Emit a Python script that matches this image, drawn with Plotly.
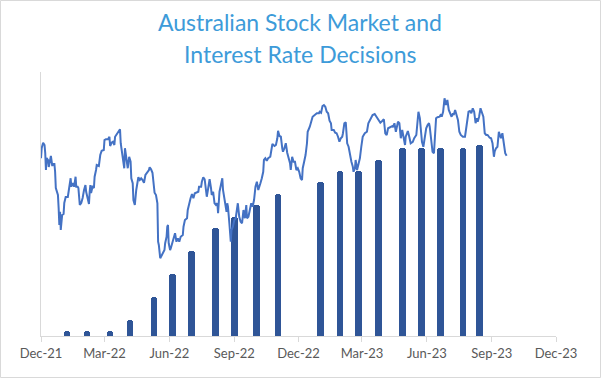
import plotly.graph_objects as go

# ---- Data -------------------------------------------------------------
# Interest rate decisions (cash rate, %)
rate_dates = ["2022-01-07", "2022-02-04", "2022-03-09", "2022-04-06", "2022-05-10",
              "2022-06-05", "2022-07-02", "2022-08-05", "2022-09-01", "2022-10-02",
              "2022-11-02", "2023-01-01", "2023-01-29", "2023-02-24", "2023-03-24",
              "2023-04-27", "2023-05-24", "2023-06-20", "2023-07-22", "2023-08-15"]
rate_values = [0.10, 0.10, 0.10, 0.35, 0.85, 1.35, 1.85, 2.35, 2.60, 2.85,
               3.10, 3.35, 3.60, 3.60, 3.85, 4.10, 4.10, 4.10, 4.10, 4.17]

# Stock market index (points)
stock_dates = [
    "2021-12-01", "2021-12-02", "2021-12-04", "2021-12-06", "2021-12-07", "2021-12-08", "2021-12-09",
    "2021-12-11", "2021-12-12", "2021-12-14", "2021-12-15", "2021-12-17", "2021-12-18", "2021-12-20",
    "2021-12-21", "2021-12-22", "2021-12-25", "2021-12-26", "2021-12-27", "2021-12-28", "2021-12-29",
    "2021-12-31", "2022-01-02", "2022-01-03", "2022-01-05", "2022-01-08", "2022-01-10", "2022-01-12",
    "2022-01-13", "2022-01-15", "2022-01-17", "2022-01-19", "2022-01-20", "2022-01-22", "2022-01-23",
    "2022-01-25", "2022-01-27", "2022-01-29", "2022-01-31", "2022-02-02", "2022-02-03", "2022-02-05",
    "2022-02-07", "2022-02-08", "2022-02-09", "2022-02-10", "2022-02-12", "2022-02-14", "2022-02-15",
    "2022-02-17", "2022-02-18", "2022-02-21", "2022-02-23", "2022-02-25", "2022-02-28", "2022-03-01",
    "2022-03-03", "2022-03-06", "2022-03-08", "2022-03-09", "2022-03-11", "2022-03-13", "2022-03-15",
    "2022-03-16", "2022-03-19", "2022-03-21", "2022-03-23", "2022-03-24", "2022-03-26", "2022-03-28",
    "2022-03-29", "2022-03-30", "2022-04-01", "2022-04-03", "2022-04-05", "2022-04-07", "2022-04-08",
    "2022-04-10", "2022-04-11", "2022-04-13", "2022-04-15", "2022-04-16", "2022-04-18", "2022-04-20",
    "2022-04-22", "2022-04-24", "2022-04-26", "2022-04-28", "2022-04-30", "2022-05-03", "2022-05-04",
    "2022-05-06", "2022-05-08", "2022-05-10", "2022-05-11", "2022-05-13", "2022-05-14", "2022-05-15",
    "2022-05-16", "2022-05-17", "2022-05-19", "2022-05-21", "2022-05-22", "2022-05-25", "2022-05-26",
    "2022-05-28", "2022-05-29", "2022-05-30", "2022-05-31", "2022-06-02", "2022-06-03", "2022-06-06",
    "2022-06-08", "2022-06-09", "2022-06-11", "2022-06-13", "2022-06-15", "2022-06-17", "2022-06-20",
    "2022-06-21", "2022-06-23", "2022-06-26", "2022-06-27", "2022-06-29", "2022-07-01", "2022-07-03",
    "2022-07-05", "2022-07-07", "2022-07-10", "2022-07-12", "2022-07-13", "2022-07-16", "2022-07-17",
    "2022-07-19", "2022-07-21", "2022-07-23", "2022-07-24", "2022-07-26", "2022-07-28", "2022-07-30",
    "2022-07-31", "2022-08-02", "2022-08-04", "2022-08-06", "2022-08-08", "2022-08-09", "2022-08-11",
    "2022-08-13", "2022-08-15", "2022-08-16", "2022-08-18", "2022-08-19", "2022-08-21", "2022-08-22",
    "2022-08-23", "2022-08-25", "2022-08-26", "2022-08-27", "2022-08-28", "2022-08-30", "2022-09-01",
    "2022-09-03", "2022-09-05", "2022-09-06", "2022-09-08", "2022-09-10", "2022-09-12", "2022-09-14",
    "2022-09-16", "2022-09-18", "2022-09-19", "2022-09-21", "2022-09-23", "2022-09-25", "2022-09-27",
    "2022-09-29", "2022-10-01", "2022-10-03", "2022-10-05", "2022-10-06", "2022-10-08", "2022-10-10",
    "2022-10-12", "2022-10-13", "2022-10-15", "2022-10-17", "2022-10-19", "2022-10-22", "2022-10-23",
    "2022-10-25", "2022-10-28", "2022-10-30", "2022-11-01", "2022-11-02", "2022-11-04", "2022-11-06",
    "2022-11-08", "2022-11-09", "2022-11-11", "2022-11-13", "2022-11-15", "2022-11-17", "2022-11-19",
    "2022-11-20", "2022-11-22", "2022-11-24", "2022-11-26", "2022-11-28", "2022-11-30", "2022-12-02",
    "2022-12-04", "2022-12-06", "2022-12-07", "2022-12-09", "2022-12-11", "2022-12-13", "2022-12-14",
    "2022-12-17", "2022-12-19", "2022-12-21", "2022-12-24", "2022-12-27", "2022-12-30", "2022-12-31",
    "2023-01-02", "2023-01-04", "2023-01-06", "2023-01-08", "2023-01-10", "2023-01-12", "2023-01-14",
    "2023-01-16", "2023-01-17", "2023-01-20", "2023-01-22", "2023-01-24", "2023-01-26", "2023-01-28",
    "2023-01-30", "2023-02-01", "2023-02-02", "2023-02-04", "2023-02-06", "2023-02-08", "2023-02-10",
    "2023-02-11", "2023-02-13", "2023-02-14", "2023-02-16", "2023-02-17", "2023-02-19", "2023-02-20",
    "2023-02-22", "2023-02-24", "2023-02-26", "2023-02-28", "2023-03-02", "2023-03-05", "2023-03-08",
    "2023-03-10", "2023-03-13", "2023-03-16", "2023-03-19", "2023-03-22", "2023-03-25", "2023-03-27",
    "2023-03-30", "2023-04-01", "2023-04-03", "2023-04-05", "2023-04-07", "2023-04-10", "2023-04-13",
    "2023-04-14", "2023-04-16", "2023-04-18", "2023-04-21", "2023-04-23", "2023-04-25", "2023-04-27",
    "2023-04-29", "2023-05-01", "2023-05-02", "2023-05-05", "2023-05-07", "2023-05-09", "2023-05-12",
    "2023-05-14", "2023-05-17", "2023-05-18", "2023-05-20", "2023-05-22", "2023-05-24", "2023-05-25",
    "2023-05-27", "2023-05-29", "2023-05-31", "2023-06-02", "2023-06-04", "2023-06-05", "2023-06-07",
    "2023-06-09", "2023-06-11", "2023-06-12", "2023-06-14", "2023-06-16", "2023-06-19", "2023-06-21",
    "2023-06-22", "2023-06-24", "2023-06-26", "2023-06-28", "2023-06-30", "2023-07-02", "2023-07-04",
    "2023-07-06", "2023-07-08", "2023-07-09", "2023-07-11", "2023-07-13", "2023-07-15", "2023-07-17",
    "2023-07-19", "2023-07-22", "2023-07-25", "2023-07-26", "2023-07-28", "2023-07-30", "2023-08-01",
    "2023-08-03", "2023-08-05", "2023-08-07", "2023-08-09", "2023-08-11", "2023-08-12", "2023-08-14",
    "2023-08-16", "2023-08-18", "2023-08-20", "2023-08-22", "2023-08-24", "2023-08-26", "2023-08-28",
    "2023-08-29", "2023-08-31", "2023-09-02", "2023-09-04", "2023-09-05", "2023-09-07", "2023-09-09",
    "2023-09-11", "2023-09-13", "2023-09-14", "2023-09-16", "2023-09-18", "2023-09-20", "2023-09-22",
]
stock_values = [
    7222, 7304, 7346, 7328, 7264, 7128, 7224,
    7208, 7152, 7208, 7240, 7160, 7176, 7176,
    7114, 6984, 6928, 6824, 6688, 6794, 6648,
    6768, 6776, 6864, 6912, 6912, 6994, 7062,
    6994, 7024, 6994, 7074, 6994, 6994, 6984,
    6848, 6864, 6904, 6968, 7008, 6954, 6914,
    6856, 6954, 7008, 6944, 6994, 6984, 7074,
    7128, 7168, 7160, 7248, 7282, 7288, 7368,
    7374, 7374, 7394, 7320, 7346, 7354, 7328,
    7394, 7422, 7442, 7454, 7342, 7274, 7202,
    7142, 7302, 7194, 7142, 7234, 7194, 7062,
    7022, 6888, 6848, 6968, 6994, 7070, 7048,
    7062, 7048, 7026, 7088, 7106, 7128, 7150,
    7134, 7106, 6994, 6946, 6928, 6888, 6862,
    6554, 6528, 6422, 6448, 6462, 6488, 6542,
    6594, 6674, 6688, 6542, 6488, 6502, 6554,
    6594, 6622, 6554, 6582, 6554, 6594, 6608,
    6674, 6728, 6742, 6808, 6862, 6902, 6936,
    6902, 6942, 6946, 6954, 6994, 6994, 7034,
    7070, 7054, 6968, 6914, 6982, 7054, 6982,
    6928, 6954, 6862, 6848, 6862, 6782, 6954,
    7008, 7062, 6968, 6888, 6848, 6794, 6862,
    6834, 6702, 6622, 6554, 6648, 6674, 6728,
    6742, 6822, 6862, 6754, 6714, 6702, 6808,
    6742, 6848, 6742, 6754, 6808, 6862, 6834,
    6888, 6994, 7034, 6968, 6982, 7022, 7062,
    7114, 7208, 7222, 7202, 7222, 7234, 7274,
    7336, 7320, 7328, 7382, 7442, 7400, 7394,
    7302, 7274, 7302, 7342, 7266, 7222, 7182,
    7128, 7234, 7194, 7194, 7128, 7142, 7114,
    7062, 7048, 7142, 7194, 7248, 7342, 7434,
    7474, 7514, 7554, 7568, 7582, 7582, 7594,
    7586, 7640, 7648, 7634, 7594, 7582, 7522,
    7502, 7448, 7448, 7426, 7422, 7394, 7354,
    7382, 7394, 7422, 7502, 7510, 7342, 7314,
    7274, 7208, 7194, 7154, 7114, 7142, 7208,
    7128, 7168, 7222, 7314, 7394, 7422, 7434,
    7502, 7542, 7568, 7576, 7550, 7522, 7506,
    7522, 7534, 7422, 7408, 7462, 7470, 7480,
    7470, 7502, 7434, 7514, 7502, 7382, 7448,
    7368, 7328, 7394, 7440, 7394, 7342, 7354,
    7382, 7408, 7488, 7594, 7542, 7434, 7354,
    7314, 7408, 7462, 7488, 7502, 7474, 7342,
    7274, 7262, 7382, 7542, 7550, 7554, 7574,
    7554, 7594, 7702, 7648, 7688, 7608, 7574,
    7554, 7582, 7568, 7608, 7554, 7528, 7434,
    7408, 7394, 7394, 7434, 7514, 7594, 7600,
    7582, 7622, 7594, 7502, 7542, 7514, 7554,
    7622, 7594, 7554, 7422, 7408, 7408, 7394,
    7386, 7382, 7342, 7234, 7274, 7302, 7314,
    7434, 7394, 7382, 7422, 7342, 7262, 7242,
]

tick_dates = ["2021-12-01", "2022-03-01", "2022-06-01", "2022-09-01", "2022-12-01",
              "2023-03-01", "2023-06-01", "2023-09-01", "2023-12-01"]
tick_labels = ["Dec-21", "Mar-22", "Jun-22", "Sep-22", "Dec-22",
               "Mar-23", "Jun-23", "Sep-23", "Dec-23"]

title_lines = ["Australian Stock Market and", "Interest Rate Decisions"]

# ---- Figure -----------------------------------------------------------
BAR_WIDTH_MS = 9.5 * 24 * 3600 * 1000
PLOT_H = 264.0  # plot-area height in px (378 - 72 - 42)

fig = go.Figure()
fig.add_trace(go.Bar(
    x=rate_dates, y=rate_values, name="Cash rate",
    width=BAR_WIDTH_MS,
    marker=dict(color="#2F5597", line=dict(width=0), cornerradius="50%"),
))
fig.add_trace(go.Scatter(
    x=stock_dates, y=stock_values, name="Stock market", yaxis="y2",
    mode="lines", line=dict(color="#4472C4", width=2),
))

fig.update_layout(
    width=601, height=378,
    margin=dict(l=41, r=45, t=72, b=42),
    paper_bgcolor="white", plot_bgcolor="white",
    showlegend=False,
    font=dict(family="Lato, Open Sans, sans-serif", color="#595959"),
    xaxis=dict(
        type="date", range=["2021-12-01", "2023-12-01"],
        tickmode="array", tickvals=tick_dates, ticktext=tick_labels,
        showline=True, linecolor="#D9D9D9", linewidth=1,
        ticks="outside", ticklen=5, tickcolor="#D9D9D9",
        showgrid=False, zeroline=False,
        tickfont=dict(size=13, color="#595959"),
    ),
    yaxis=dict(
        range=[0, 5.76], showline=True, linecolor="#D9D9D9", linewidth=1,
        showticklabels=False, showgrid=False, zeroline=False, ticks="",
    ),
    yaxis2=dict(
        range=[5800, 7912], overlaying="y", side="right",
        showline=False, showticklabels=False, showgrid=False, zeroline=False,
    ),
    bargap=0,
)

# Two-line chart title
for line_text, y_px in zip(title_lines, [22, 54]):
    fig.add_annotation(
        text=line_text, xref="paper", yref="paper",
        x=(300 - 41) / 515, y=(336 - y_px) / PLOT_H,
        xanchor="center", yanchor="middle", showarrow=False,
        font=dict(family="Lato, Open Sans, sans-serif", size=23, color="#3D9BD9"),
    )

# Chart-area border
fig.add_shape(type="rect", xref="paper", yref="paper",
              x0=-40.5 / 515, x1=559.5 / 515, y0=-41.5 / PLOT_H, y1=335.5 / PLOT_H,
              line=dict(color="#D9D9D9", width=1), fillcolor="rgba(0,0,0,0)", layer="below")

fig.write_html("out.html", config={"displayModeBar": False},
               post_script="document.body.style.margin='0';")
